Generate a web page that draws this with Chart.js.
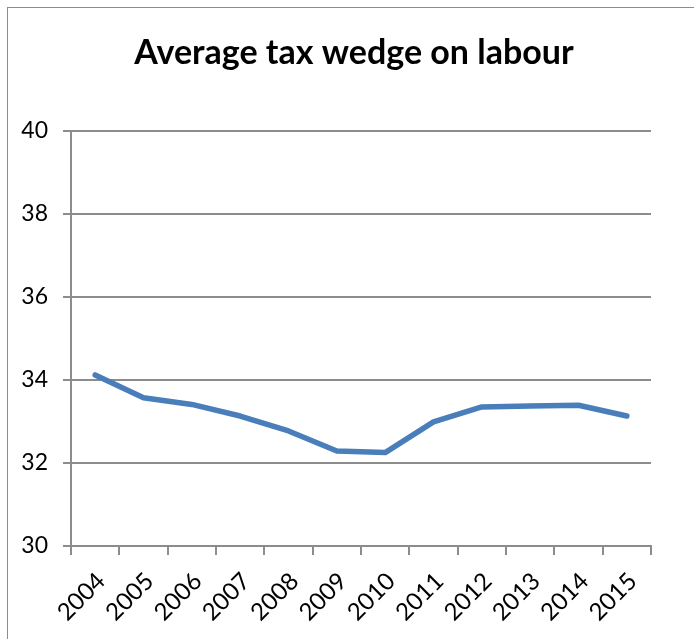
<!DOCTYPE html>
<html lang="en">
<head>
    <meta charset="UTF-8">
    <title>Average tax wedge on labour</title>
    <script src="https://cdn.jsdelivr.net/npm/chart.js@4.4.0/dist/chart.umd.min.js"></script>
    <style>
        html, body { margin: 0; padding: 0; overflow: hidden; background: #fff; }
        .frame {
            position: absolute; left: 7px; top: 7px; width: 800px; height: 800px;
            border-left: 1.5px solid #8c8c8c; border-top: 1.5px solid #8c8c8c;
        }
        .chart-container { position: absolute; left: 0; top: 0; width: 708px; height: 639px; }
    </style>
</head>
<body>
    <div class="frame"></div>
    <div class="chart-container">
        <canvas id="taxChart"></canvas>
    </div>

    <script>
        const years = ['2004', '2005', '2006', '2007', '2008', '2009', '2010', '2011', '2012', '2013', '2014', '2015'];
        const taxWedge = [34.12, 33.57, 33.41, 33.13, 32.77, 32.29, 32.25, 32.99, 33.35, 33.37, 33.39, 33.13];
        const yTicks = [30, 32, 34, 36, 38, 40];

        const gridColor = '#8c8c8c';

        const ctx = document.getElementById('taxChart').getContext('2d');
        new Chart(ctx, {
            type: 'line',
            data: {
                labels: years,
                datasets: [{
                    label: 'Average tax wedge',
                    data: taxWedge,
                    borderColor: '#4A7EBB',
                    borderWidth: 5.5,
                    borderCapStyle: 'round',
                    borderJoinStyle: 'round',
                    pointRadius: 0,
                    tension: 0,
                    fill: false
                }]
            },
            options: {
                responsive: true,
                maintainAspectRatio: false,
                animation: false,
                layout: {
                    padding: 0
                },
                plugins: {
                    legend: { display: false },
                    tooltip: { enabled: false },
                    title: {
                        display: true,
                        text: 'Average tax wedge on labour',
                        color: '#000',
                        font: { family: 'Lato', size: 34, weight: 'bold' },
                        padding: { top: 33, bottom: 57 }
                    }
                },
                scales: {
                    y: {
                        min: yTicks[0],
                        max: yTicks[yTicks.length - 1],
                        afterBuildTicks: (scale) => {
                            scale.ticks = yTicks.map(v => ({ value: v }));
                        },
                        afterFit: (scale) => { scale.width = 71; },
                        grid: {
                            color: gridColor,
                            lineWidth: 2,
                            tickLength: 8
                        },
                        border: { display: true, color: gridColor, width: 2 },
                        ticks: {
                            color: '#000',
                            padding: 15,
                            font: { family: 'Lato', size: 23 }
                        }
                    },
                    // empty right-hand box: white space on the right without moving the title
                    spacer: {
                        type: 'linear',
                        position: 'right',
                        afterFit: (scale) => { scale.width = 57; },
                        grid: { display: false },
                        border: { display: false },
                        ticks: { display: false }
                    },
                    x: {
                        offset: true,
                        afterFit: (scale) => { scale.height = 93; },
                        grid: {
                            offset: true,
                            drawOnChartArea: false,
                            drawTicks: true,
                            tickLength: 9,
                            color: gridColor,
                            lineWidth: 2
                        },
                        border: { display: true, color: gridColor, width: 2 },
                        ticks: {
                            color: '#000',
                            autoSkip: false,
                            maxRotation: 45,
                            minRotation: 45,
                            padding: 12,
                            labelOffset: 6,
                            font: { family: 'Lato', size: 24 }
                        }
                    }
                }
            }
        });
    </script>
</body>
</html>
